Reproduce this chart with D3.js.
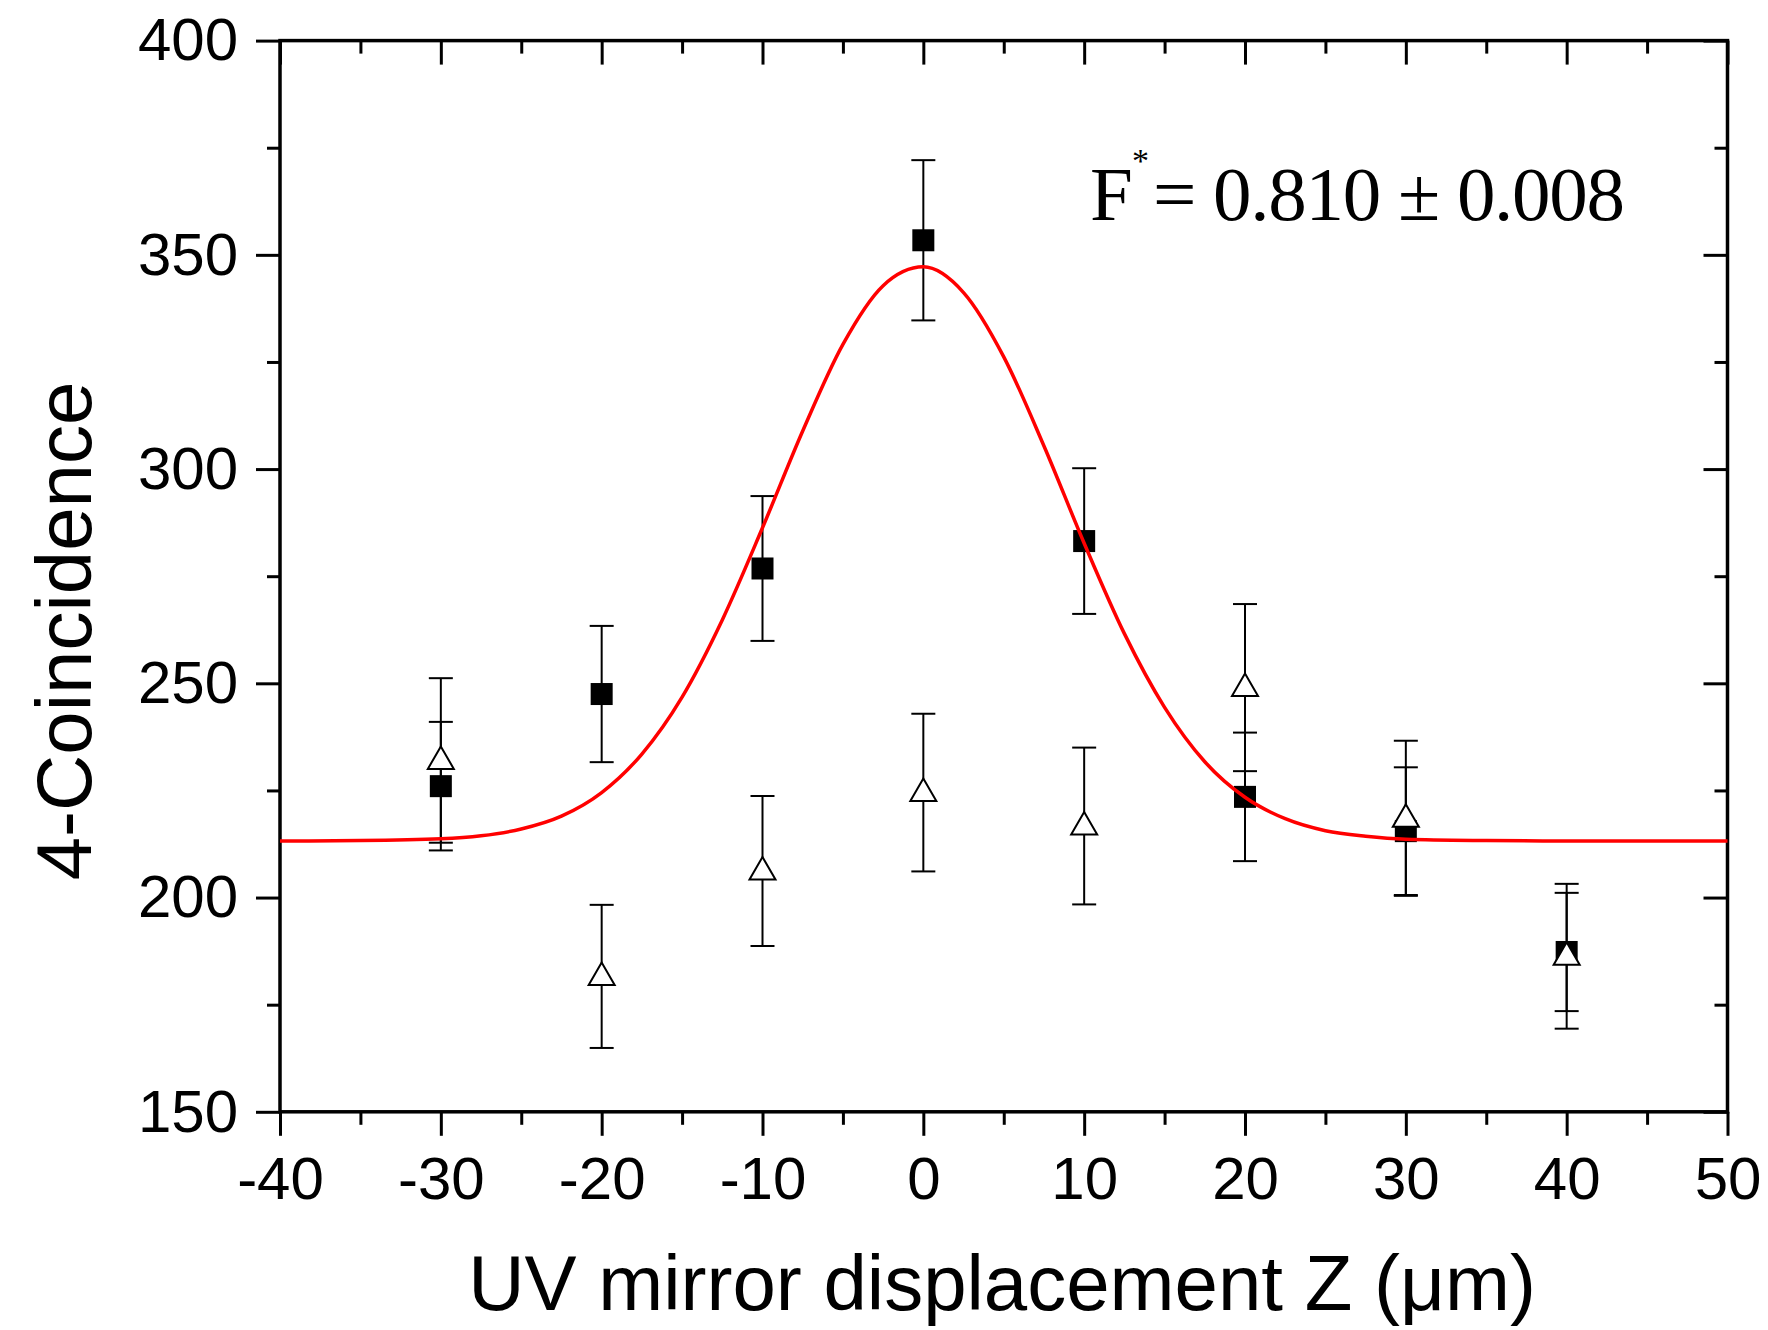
<!DOCTYPE html>
<html>
<head>
<meta charset="utf-8">
<script src="https://cdn.jsdelivr.net/npm/d3@7"></script>
<style>
  body { margin: 0; background: #fff; }
  svg { display: block; }
  .axis path, .axis line { stroke: #000; }
  .axis text { font-family: "Liberation Sans", Arial, sans-serif; fill: #000; }
</style>
</head>
<body>
<div id="chart"></div>
<script>
// measured positions (um) and 4-fold coincidence counts
var zPos = [-30, -20, -10, 0, 10, 20, 30, 40];
var squareCounts = [226.0, 247.5, 276.8, 353.4, 283.2, 223.5, 215.5, 187.3];
var squareErr = [15.0, 15.9, 16.9, 18.7, 17.0, 15.0, 14.9, 13.8];
var triangleCounts = [232.0, 181.6, 206.2, 224.5, 216.7, 249.0, 218.5, 186.3];
var triangleErr = [19.2, 16.7, 17.5, 18.4, 18.3, 19.5, 18.1, 16.9];

// red fit curve
var fitZ = [-40, -35, -30, -27.5, -25, -22.5, -20, -17.5, -15, -12.5, -10, -7.5, -5, -2.5, 0,
            2.5, 5, 7.5, 10, 12.5, 15, 17.5, 20, 22.5, 25, 27.5, 30, 35, 40, 50];
var fitCounts = [213.2, 213.3, 213.7, 214.4, 216.0, 219.0, 224.5, 233.5, 246.8, 264.8, 286.3, 308.9, 329.1, 342.8, 347.2,
                 341.2, 326.2, 305.4, 282.7, 261.6, 244.4, 231.7, 223.4, 218.4, 215.6, 214.3, 213.6, 213.3, 213.2, 213.2];

var xTicks = [-40, -30, -20, -10, 0, 10, 20, 30, 40, 50];
var yTicks = [150, 200, 250, 300, 350, 400];

var W = 1768, H = 1330;
var mLeft = 280, mRight = 1727.5, mTop = 40.6, mBottom = 1111.8;

var svg = d3.select("#chart").append("svg")
    .attr("width", W)
    .attr("height", H);

var x = d3.scaleLinear().domain([-40, 50]).range([mLeft, mRight]);
var y = d3.scaleLinear().domain([150, 400]).range([mBottom, mTop]);

var xMinor = d3.range(-40, 50.1, 5).filter(function (v) { return v % 10 !== 0; });
var yMinor = d3.range(150, 400.1, 25).filter(function (v) { return v % 50 !== 0; });

var plain = function (d) { return String(d); };  // hyphen minus, like the original

function styleAxis(g, w) {
    g.select(".domain").remove();
    g.selectAll("line").attr("stroke-width", w);
}

// bottom axis (outward ticks, labels)
svg.append("g").attr("class", "axis")
    .attr("transform", "translate(0," + mBottom + ")")
    .call(d3.axisBottom(x).tickValues(xTicks).tickSize(24).tickPadding(21).tickFormat(plain))
    .call(styleAxis, 3)
    .selectAll("text").style("font-size", "60px");
svg.append("g").attr("class", "axis")
    .attr("transform", "translate(0," + mBottom + ")")
    .call(d3.axisBottom(x).tickValues(xMinor).tickSize(13).tickFormat(""))
    .call(styleAxis, 3);

// top axis (inward ticks)
svg.append("g").attr("class", "axis")
    .attr("transform", "translate(0," + mTop + ")")
    .call(d3.axisBottom(x).tickValues(xTicks).tickSize(24).tickFormat(""))
    .call(styleAxis, 3);
svg.append("g").attr("class", "axis")
    .attr("transform", "translate(0," + mTop + ")")
    .call(d3.axisBottom(x).tickValues(xMinor).tickSize(13).tickFormat(""))
    .call(styleAxis, 3);

// left axis
svg.append("g").attr("class", "axis")
    .attr("transform", "translate(" + mLeft + ",0)")
    .call(d3.axisLeft(y).tickValues(yTicks).tickSize(24).tickPadding(18).tickFormat(plain))
    .call(styleAxis, 3)
    .selectAll("text").style("font-size", "60px");
svg.append("g").attr("class", "axis")
    .attr("transform", "translate(" + mLeft + ",0)")
    .call(d3.axisLeft(y).tickValues(yMinor).tickSize(13).tickFormat(""))
    .call(styleAxis, 3);

// right axis (inward ticks)
svg.append("g").attr("class", "axis")
    .attr("transform", "translate(" + mRight + ",0)")
    .call(d3.axisLeft(y).tickValues(yTicks).tickSize(24).tickFormat(""))
    .call(styleAxis, 3);
svg.append("g").attr("class", "axis")
    .attr("transform", "translate(" + mRight + ",0)")
    .call(d3.axisLeft(y).tickValues(yMinor).tickSize(13).tickFormat(""))
    .call(styleAxis, 3);

// frame
svg.append("rect")
    .attr("x", mLeft).attr("y", mTop)
    .attr("width", mRight - mLeft).attr("height", mBottom - mTop)
    .attr("fill", "none").attr("stroke", "#000").attr("stroke-width", 3.5);

// error bars
function errorBars(vals, errs) {
    var g = svg.append("g").attr("stroke", "#000").attr("stroke-width", 2).attr("fill", "none");
    zPos.forEach(function (z, i) {
        var cx = x(z), y1 = y(vals[i] + errs[i]), y2 = y(vals[i] - errs[i]);
        g.append("line").attr("x1", cx).attr("x2", cx).attr("y1", y1).attr("y2", y2);
        g.append("line").attr("x1", cx - 12).attr("x2", cx + 12).attr("y1", y1).attr("y2", y1);
        g.append("line").attr("x1", cx - 12).attr("x2", cx + 12).attr("y1", y2).attr("y2", y2);
    });
}
errorBars(squareCounts, squareErr);
errorBars(triangleCounts, triangleErr);

// filled squares
svg.append("g").selectAll("rect")
    .data(zPos)
    .enter()
    .append("rect")
    .attr("x", function (d) { return x(d) - 11; })
    .attr("y", function (d, i) { return y(squareCounts[i]) - 11; })
    .attr("width", 22)
    .attr("height", 22)
    .attr("fill", "#000");

// open triangles
svg.append("g").selectAll("path")
    .data(zPos)
    .enter()
    .append("path")
    .attr("d", function (d, i) {
        var cx = x(d), cy = y(triangleCounts[i]);
        return "M" + cx + "," + (cy - 14) + "L" + (cx + 13) + "," + (cy + 8.5) + "L" + (cx - 13) + "," + (cy + 8.5) + "Z";
    })
    .attr("fill", "#fff")
    .attr("stroke", "#000")
    .attr("stroke-width", 2);

// fit curve
var line = d3.line()
    .x(function (d, i) { return x(fitZ[i]); })
    .y(function (d) { return y(d); })
    .curve(d3.curveMonotoneX);
svg.append("path")
    .datum(fitCounts)
    .attr("d", line)
    .attr("fill", "none")
    .attr("stroke", "#ff0000")
    .attr("stroke-width", 3.5);

// axis titles
svg.append("text")
    .attr("x", 1002)
    .attr("y", 1310)
    .attr("text-anchor", "middle")
    .style("font-family", "'Liberation Sans', Arial, sans-serif")
    .style("font-size", "78px")
    .text("UV mirror displacement Z (\u03bcm)");

svg.append("text")
    .attr("transform", "translate(91,631) rotate(-90)")
    .attr("text-anchor", "middle")
    .style("font-family", "'Liberation Sans', Arial, sans-serif")
    .style("font-size", "78px")
    .text("4-Coincidence");

// fidelity annotation
var ann = svg.append("text")
    .attr("y", 220)
    .style("font-family", "'Liberation Serif', 'Times New Roman', serif")
    .style("font-size", "77px");
ann.append("tspan").attr("x", 1090).text("F");
ann.append("tspan").attr("x", 1132).attr("y", 172).style("font-size", "34px").text("*");
ann.append("tspan").attr("x", 1153).attr("y", 220)
    .attr("textLength", 472).attr("lengthAdjust", "spacing")
    .text("= 0.810 \u00b1 0.008");
</script>
</body>
</html>
